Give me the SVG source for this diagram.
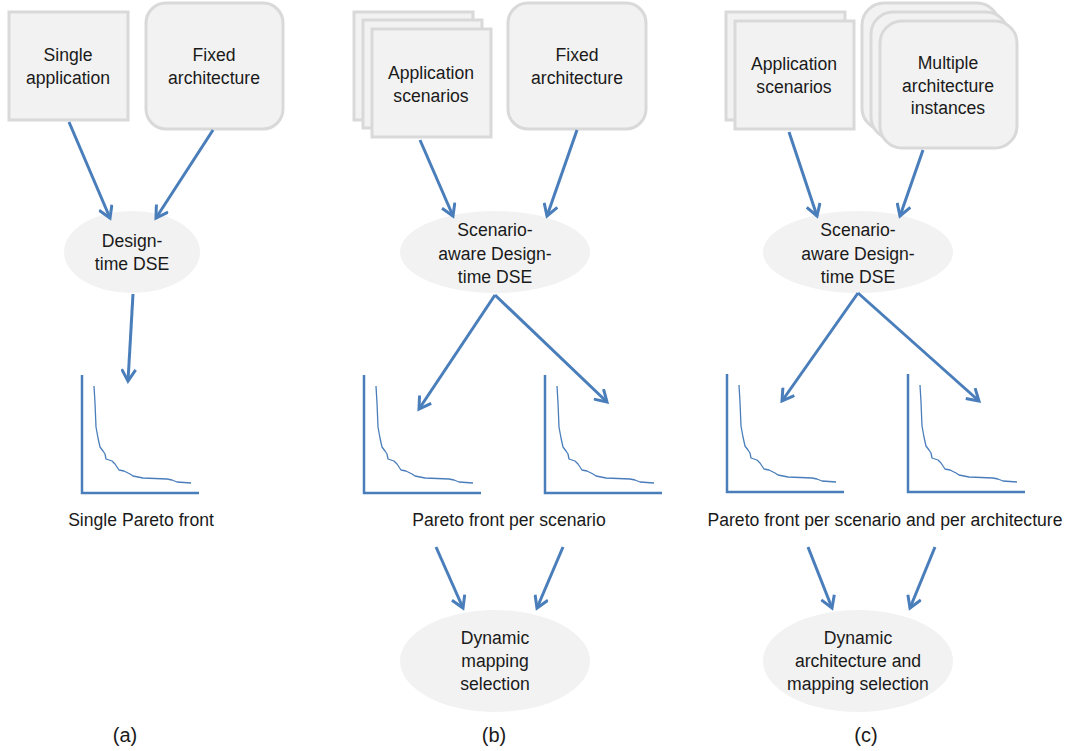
<svg xmlns="http://www.w3.org/2000/svg" xmlns:xlink="http://www.w3.org/1999/xlink" width="1070" height="751" viewBox="0 0 1070 751">
<style>
.box{fill:#f2f2f2;stroke:#d9d9d9;stroke-width:3}
.ell{fill:#f2f2f2}
.t{font-family:"Liberation Sans",Arial,sans-serif;font-size:17.6px;fill:#1a1a1a;text-anchor:middle;dominant-baseline:central}
.lab{font-family:"Liberation Sans",Arial,sans-serif;font-size:20px;fill:#1a1a1a;text-anchor:middle;dominant-baseline:central}
.con line{stroke:#4a7ebb;stroke-width:3;marker-end:url(#ah)}
.axis{fill:none;stroke:#4a7ebb;stroke-width:2.5}
.curve{fill:none;stroke:#4a7ebb;stroke-width:1.3;stroke-linejoin:round}
</style>
<defs>
<marker id="ah" markerUnits="userSpaceOnUse" viewBox="0 0 16 16" refX="13" refY="8" markerWidth="16" markerHeight="16" orient="auto">
<path d="M1.5,1 L13,8 L1.5,15" fill="none" stroke="#4a7ebb" stroke-width="3"/>
</marker>
<g id="pareto">
<path class="axis" d="M0,-118 V0 H117"/>
<path class="curve" d="M12,-107 L13,-90 L14,-66 L16,-55 L18,-46 L21,-42 L23,-39 L24,-34 L27,-33 L30,-32 L33,-29 L35,-26 L37,-23 L42,-22 L44,-21 L48,-19 L51,-17 L56,-16 L61,-15 L85,-14 L90,-13 L95,-11 L109,-10"/>
</g>
</defs>
<rect width="1070" height="751" fill="#ffffff"/>

<!-- Panel (a) -->
<g id="a-single-app">
<rect class="box" x="9" y="12" width="119" height="108"/>
<text class="t" x="68" y="55">Single</text>
<text class="t" x="68" y="78">application</text>
</g>
<g id="a-fixed-arch">
<rect class="box" x="146" y="3" width="137" height="126" rx="20"/>
<text class="t" x="214" y="55">Fixed</text>
<text class="t" x="214" y="78">architecture</text>
</g>
<g id="a-dse">
<ellipse class="ell" cx="132" cy="252" rx="68" ry="41"/>
<text class="t" x="132" y="241">Design-</text>
<text class="t" x="132" y="264">time DSE</text>
</g>
<g id="a-pareto">
<use xlink:href="#pareto" transform="translate(82,493)"/>
<text class="t" x="141" y="520">Single Pareto front</text>
</g>
<text class="lab" x="125" y="735">(a)</text>

<!-- Panel (b) -->
<g id="b-app-scen">
<rect class="box" x="354" y="12" width="119" height="108"/>
<rect class="box" x="363" y="20" width="119" height="108"/>
<rect class="box" x="372" y="29" width="119" height="108"/>
<text class="t" x="431" y="73">Application</text>
<text class="t" x="431" y="96">scenarios</text>
</g>
<g id="b-fixed-arch">
<rect class="box" x="508" y="3" width="138" height="126" rx="20"/>
<text class="t" x="577" y="55">Fixed</text>
<text class="t" x="577" y="78">architecture</text>
</g>
<g id="b-dse">
<ellipse class="ell" cx="495" cy="252" rx="95" ry="41"/>
<text class="t" x="495" y="230">Scenario-</text>
<text class="t" x="495" y="254">aware Design-</text>
<text class="t" x="495" y="277">time DSE</text>
</g>
<g id="b-pareto">
<use xlink:href="#pareto" transform="translate(364,493)"/>
<use xlink:href="#pareto" transform="translate(545,493)"/>
<text class="t" x="509" y="520">Pareto front per scenario</text>
</g>
<g id="b-dyn">
<ellipse class="ell" cx="495" cy="661" rx="95" ry="51"/>
<text class="t" x="495" y="638">Dynamic</text>
<text class="t" x="495" y="661">mapping</text>
<text class="t" x="495" y="684">selection</text>
</g>
<text class="lab" x="494" y="735">(b)</text>

<!-- Panel (c) -->
<g id="c-app-scen">
<rect class="box" x="726" y="12" width="119" height="108"/>
<rect class="box" x="735" y="21" width="119" height="108"/>
<text class="t" x="794" y="64">Application</text>
<text class="t" x="794" y="87">scenarios</text>
</g>
<g id="c-multi-arch">
<rect class="box" x="862" y="3" width="137" height="127" rx="22"/>
<rect class="box" x="871" y="12" width="137" height="127" rx="22"/>
<rect class="box" x="880" y="21" width="137" height="127" rx="22"/>
<text class="t" x="948" y="63">Multiple</text>
<text class="t" x="948" y="86">architecture</text>
<text class="t" x="948" y="108">instances</text>
</g>
<g id="c-dse">
<ellipse class="ell" cx="858" cy="252" rx="95" ry="41"/>
<text class="t" x="858" y="230">Scenario-</text>
<text class="t" x="858" y="254">aware Design-</text>
<text class="t" x="858" y="277">time DSE</text>
</g>
<g id="c-pareto">
<use xlink:href="#pareto" transform="translate(727,492)"/>
<use xlink:href="#pareto" transform="translate(908,492)"/>
<text class="t" x="885" y="520">Pareto front per scenario and per architecture</text>
</g>
<g id="c-dyn">
<ellipse class="ell" cx="858" cy="661" rx="95" ry="51"/>
<text class="t" x="858" y="638">Dynamic</text>
<text class="t" x="858" y="661">architecture and</text>
<text class="t" x="858" y="684">mapping selection</text>
</g>
<text class="lab" x="866" y="735">(c)</text>

<!-- Connectors -->
<g id="connectors" class="con">
<line x1="69" y1="122" x2="110" y2="218"/>
<line x1="213" y1="130" x2="156" y2="218"/>
<line x1="133" y1="294" x2="128" y2="381"/>
<line x1="420" y1="140" x2="453" y2="216"/>
<line x1="577" y1="130" x2="547" y2="216"/>
<line x1="495" y1="295" x2="419" y2="409"/>
<line x1="495" y1="295" x2="607" y2="402"/>
<line x1="436" y1="547" x2="463" y2="608"/>
<line x1="563" y1="547" x2="537" y2="608"/>
<line x1="789" y1="132" x2="817" y2="216"/>
<line x1="923" y1="150" x2="900" y2="216"/>
<line x1="858" y1="293" x2="782" y2="401"/>
<line x1="858" y1="293" x2="979" y2="401"/>
<line x1="808" y1="547" x2="832" y2="608"/>
<line x1="935" y1="547" x2="910" y2="608"/>
</g>
</svg>
